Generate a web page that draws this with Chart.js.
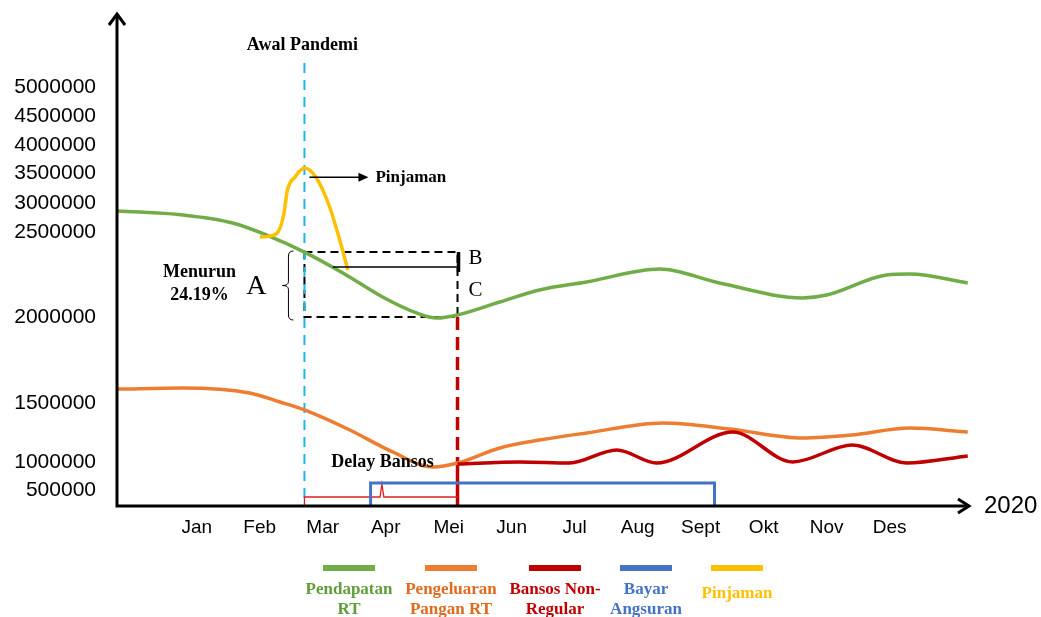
<!DOCTYPE html>
<html>
<head>
<meta charset="utf-8">
<script src="https://cdn.jsdelivr.net/npm/chart.js@4"></script>
<style>
  html, body { margin: 0; padding: 0; background: #fff; }
  #wrap { width: 1041px; height: 617px; }
</style>
</head>
<body>
<div id="wrap"><canvas id="chart" width="1041" height="617"></canvas></div>
<script>
const months = ['Jan', 'Feb', 'Mar', 'Apr', 'Mei', 'Jun', 'Jul', 'Aug', 'Sept', 'Okt', 'Nov', 'Des'];
const yTickValues = [500000, 1000000, 1500000, 2000000, 2500000, 3000000, 3500000, 4000000, 4500000, 5000000];
const yTickLabels = ['500000', '1000000', '1500000', '2000000', '2500000', '3000000', '3500000', '4000000', '4500000', '5000000'];
// the value axis of the original is not linear: height (px) of each tick above the x axis
const yTickHeights = [16, 44, 103, 189, 274, 303, 333, 361, 390, 419];

// x = month number (Jan = 1), y = rupiah
const pendapatanX = [-0.25, 0.78, 1.57, 2.11, 2.71, 3.32, 3.95, 4.49, 4.81, 5.14, 5.81, 6.44, 7.19, 8.35, 9.30, 10.62, 11.0, 11.95, 12.32, 13.24];
const pendapatan = [2862000, 2793000, 2655000, 2482000, 2382000, 2259000, 2118000, 2024000, 1994000, 2012000, 2088000, 2159000, 2206000, 2282000, 2200000, 2112000, 2129000, 2247000, 2253000, 2200000];

const panganX = [-0.25, 0.78, 1.84, 2.32, 2.71, 3.43, 4.11, 4.75, 5.14, 5.81, 6.44, 7.19, 8.40, 9.46, 10.62, 11.41, 12.32, 13.24];
const pangan = [1581000, 1587000, 1558000, 1506000, 1441000, 1271000, 1085000, 911000, 982000, 1119000, 1186000, 1246000, 1331000, 1280000, 1203000, 1229000, 1288000, 1254000];

const bansosX = [5.14, 6.13, 6.92, 7.67, 8.30, 9.51, 10.46, 11.41, 12.27, 13.24];
const bansos = [964000, 1000000, 982000, 1102000, 982000, 1254000, 1000000, 1144000, 982000, 1051000];

const angsuranX = [3.76, 3.76, 9.22, 9.22];
const angsuran = [0, 625000, 625000, 0];

const pinjamanX = [2.0, 2.16, 2.29, 2.38, 2.44, 2.56, 2.71, 2.90, 3.11, 3.27, 3.40];
const pinjaman = [2470000, 2476000, 2500000, 2793000, 3217000, 3433000, 3589000, 3417000, 2931000, 2453000, 2276000];

const delayX = [2.71, 2.71, 3.91, 3.94, 3.97, 5.14];
const delay = [0, 281000, 281000, 607000, 281000, 281000];

const seriesNames = [['Pendapatan', 'RT'], ['Pengeluaran', 'Pangan RT'], ['Bansos Non-', 'Regular'], ['Bayar', 'Angsuran'], ['Pinjaman']];
const seriesColors = ['#70AD47', '#ED7D31', '#C00000', '#4472C4', '#FFC000'];
const labelColors = ['#5F9E3A', '#E06A1E', '#C00000', '#4472C4', '#FFC000'];

const pandemicMonth = 2.71;
const bansosMonth = 5.14;
const dropTop = 2382000;
const dropBottom = 2000000;

function toAxis(v) {
    const vals = [0, ...yTickValues];
    const hs = [0, ...yTickHeights];
    for (let i = 1; i < vals.length; i++) {
        if (v <= vals[i] || i === vals.length - 1) {
            return hs[i - 1] + (v - vals[i - 1]) / (vals[i] - vals[i - 1]) * (hs[i] - hs[i - 1]);
        }
    }
}

function pts(xs, ys) {
    return xs.map((x, i) => ({ x: x, y: toAxis(ys[i]) }));
}

function line(ctx, x1, y1, x2, y2) {
    ctx.beginPath();
    ctx.moveTo(x1, y1);
    ctx.lineTo(x2, y2);
    ctx.stroke();
}

const annotations = {
    id: 'annotations',
    beforeDatasetsDraw(chart) {
        const { ctx, chartArea } = chart;
        const px = v => chart.scales.x.getPixelForValue(v);
        const py = v => chart.scales.y.getPixelForValue(toAxis(v));
        const x0 = px(pandemicMonth), x1 = px(bansosMonth);
        ctx.save();
        // dashed box
        ctx.strokeStyle = '#000';
        ctx.lineWidth = 2;
        ctx.setLineDash([8, 5]);
        ctx.strokeRect(x0, py(dropTop), x1 - x0, py(dropBottom) - py(dropTop));
        // awal pandemi
        ctx.strokeStyle = '#1FB4EC';
        ctx.setLineDash([10, 7]);
        line(ctx, x0, 63, x0, chartArea.bottom);
        // bansos start
        ctx.strokeStyle = '#C00000';
        ctx.lineWidth = 3.5;
        ctx.setLineDash([13, 7]);
        line(ctx, x1, py(dropBottom), x1, py(bansos[0]));
        ctx.setLineDash([]);
        line(ctx, x1, py(bansos[0]), x1, chartArea.bottom);
        ctx.restore();
    },
    afterDatasetsDraw(chart) {
        const { ctx, chartArea } = chart;
        const px = v => chart.scales.x.getPixelForValue(v);
        const py = v => chart.scales.y.getPixelForValue(toAxis(v));
        const x0 = px(pandemicMonth), x1 = px(bansosMonth);
        ctx.save();
        ctx.strokeStyle = '#000';
        ctx.fillStyle = '#000';

        // B - C marks
        ctx.lineWidth = 1.5;
        line(ctx, px(3.16), py(2294000), x1, py(2294000));
        ctx.lineWidth = 3.5;
        line(ctx, x1 + 1, py(dropTop), x1 + 1, py(2265000));

        // brace A
        const bx = x0 - 16, t = py(dropTop) - 1, b = py(dropBottom) + 3, m = (t + b) / 2;
        ctx.lineWidth = 1;
        ctx.beginPath();
        ctx.moveTo(bx + 5, t);
        ctx.quadraticCurveTo(bx, t, bx, t + 5);
        ctx.lineTo(bx, m - 4);
        ctx.quadraticCurveTo(bx, m, bx - 6, m);
        ctx.quadraticCurveTo(bx, m, bx, m + 4);
        ctx.lineTo(bx, b - 5);
        ctx.quadraticCurveTo(bx, b, bx + 5, b);
        ctx.stroke();

        // loan arrow
        const ay = py(3430000);
        ctx.lineWidth = 1.5;
        line(ctx, x0 + 5, ay, x0 + 56, ay);
        ctx.beginPath();
        ctx.moveTo(x0 + 64, ay);
        ctx.lineTo(x0 + 54, ay - 4.5);
        ctx.lineTo(x0 + 54, ay + 4.5);
        ctx.closePath();
        ctx.fill();

        ctx.textAlign = 'center';
        ctx.textBaseline = 'middle';
        ctx.font = 'bold 18px "Liberation Serif"';
        ctx.fillText('Awal Pandemi', x0 - 2, 45);
        ctx.fillText('Menurun', bx - 89, 272);
        ctx.fillText('24.19%', bx - 89, 295);
        ctx.fillText('Delay Bansos', px(3.95), 462);
        ctx.font = 'bold 17px "Liberation Serif"';
        ctx.textAlign = 'left';
        ctx.fillText('Pinjaman', x0 + 71, ay);
        ctx.font = '28px "Liberation Serif"';
        ctx.textAlign = 'center';
        ctx.fillText('A', bx - 32, m + 1);
        ctx.font = '21px "Liberation Serif"';
        ctx.fillText('B', x1 + 18, 258);
        ctx.fillText('C', x1 + 18, 290);
        ctx.restore();
    },
    afterDraw(chart) {
        const { ctx, chartArea } = chart;
        const ox = chartArea.left - 1, oy = chartArea.bottom;
        ctx.save();
        ctx.strokeStyle = '#000';
        ctx.lineWidth = 3;
        ctx.lineCap = 'butt';
        ctx.beginPath();
        ctx.moveTo(ox, oy + 1.5);
        ctx.lineTo(ox, 14);
        ctx.moveTo(ox - 1.5, oy);
        ctx.lineTo(chartArea.right, oy);
        ctx.stroke();
        ctx.lineJoin = 'miter';
        ctx.beginPath();
        ctx.moveTo(ox - 8, 25);
        ctx.lineTo(ox, 14);
        ctx.lineTo(ox + 8, 25);
        ctx.moveTo(chartArea.right - 11, oy - 7);
        ctx.lineTo(chartArea.right, oy);
        ctx.lineTo(chartArea.right - 11, oy + 7);
        ctx.stroke();

        ctx.fillStyle = '#000';
        ctx.font = '24px "Liberation Sans"';
        ctx.textAlign = 'left';
        ctx.textBaseline = 'middle';
        ctx.fillText('2020', 984, oy);

        // legend
        const centers = [349, 451, 555, 646, 737];
        ctx.textAlign = 'center';
        ctx.font = 'bold 17px "Liberation Serif"';
        seriesNames.forEach((name, i) => {
            ctx.fillStyle = seriesColors[i];
            ctx.fillRect(centers[i] - 26, 565, 52, 6);
            ctx.fillStyle = labelColors[i];
            if (name.length === 1) {
                ctx.fillText(name[0], centers[i], 594);
            } else {
                ctx.fillText(name[0], centers[i], 590);
                ctx.fillText(name[1], centers[i], 610);
            }
        });
        ctx.restore();
    }
};

function lineSet(label, data, color, width, order, smooth) {
    return {
        label: label,
        data: data,
        borderColor: color,
        borderWidth: width,
        pointRadius: 0,
        fill: false,
        order: order,
        tension: 0,
        cubicInterpolationMode: smooth ? 'monotone' : 'default',
        clip: false
    };
}

const data = {
    datasets: [
        lineSet('Pendapatan RT', pts(pendapatanX, pendapatan), seriesColors[0], 3.5, 1, true),
        lineSet('Pengeluaran Pangan RT', pts(panganX, pangan), seriesColors[1], 3.5, 3, true),
        lineSet('Bansos Non-Regular', pts(bansosX, bansos), seriesColors[2], 3.5, 2, true),
        lineSet('Bayar Angsuran', pts(angsuranX, angsuran), seriesColors[3], 3, 4, false),
        lineSet('Pinjaman', pts(pinjamanX, pinjaman), seriesColors[4], 3.5, 0, true),
        lineSet('Delay Bansos', pts(delayX, delay), '#E0201E', 1.3, 5, false),
    ],
};

const config = {
    type: 'line',
    data: data,
    options: {
        responsive: false,
        animation: false,
        events: [],
        layout: { padding: { top: 13, left: 0, right: 72, bottom: 71 } },
        plugins: {
            legend: { display: false },
            tooltip: { enabled: false }
        },
        scales: {
            x: {
                type: 'linear',
                min: -0.25,
                max: 13.26,
                grid: { display: false, drawTicks: false },
                border: { display: false },
                afterBuildTicks: scale => {
                    scale.ticks = months.map((m, i) => ({ value: i + 1 }));
                },
                afterFit: scale => {
                    scale.height = 40;
                    scale.paddingLeft = 0;
                    scale.paddingRight = 0;
                },
                ticks: {
                    autoSkip: false,
                    maxRotation: 0,
                    padding: 10,
                    color: '#000',
                    font: { family: 'Liberation Sans', size: 19 },
                    callback: (value, index) => months[index]
                }
            },
            y: {
                type: 'linear',
                min: 0,
                max: 493,
                grid: { display: false, drawTicks: false },
                border: { display: false },
                afterBuildTicks: scale => {
                    scale.ticks = yTickValues.map(v => ({ value: toAxis(v) }));
                },
                afterFit: scale => {
                    scale.width = 118;
                    scale.paddingTop = 0;
                    scale.paddingBottom = 0;
                },
                ticks: {
                    autoSkip: false,
                    padding: 22,
                    color: '#000',
                    font: { family: 'Liberation Sans', size: 21 },
                    callback: (value, index) => yTickLabels[index]
                }
            }
        }
    },
    plugins: [annotations]
};

const chartElement = document.getElementById('chart');
window.myChart = new Chart(chartElement, config);
</script>
</body>
</html>
